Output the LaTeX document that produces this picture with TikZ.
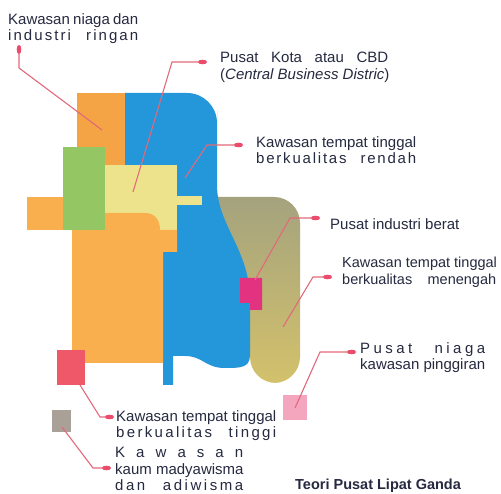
\documentclass[tikz,border=0pt]{standalone}
\usepackage{fontspec}
\setmainfont{Liberation Sans}
\usetikzlibrary{arrows.meta,calc}
\definecolor{txtnavy}{HTML}{262A40}
\definecolor{leadred}{HTML}{E2697A}
\definecolor{tipred}{HTML}{EC4C6C}
\definecolor{zonecbd}{HTML}{EEE38D}
\definecolor{zoneblue}{HTML}{2497DA}
\definecolor{zoneorange}{HTML}{F9AF4E}
\definecolor{zoneorangedk}{HTML}{F4A444}
\definecolor{zonegreen}{HTML}{95C664}
\definecolor{zoneolivetop}{HTML}{A4A37E}
\definecolor{zoneolivebot}{HTML}{D3C16B}
\definecolor{zonemagenta}{HTML}{E3327F}
\definecolor{zonered}{HTML}{EE5868}
\definecolor{zonepink}{HTML}{F5A6BF}
\definecolor{zonegrey}{HTML}{A9A198}
\tikzset{
  lbl/.style={anchor=north west,inner sep=0pt,align=left,text=txtnavy,
              font=\fontsize{15}{16.5}\selectfont},
  ttl/.style={anchor=north west,inner sep=0pt,text=txtnavy,
              font=\fontsize{14.5}{16}\selectfont\bfseries},
  ln/.style={-{Ellipse[length=9pt,width=4.5pt,color=tipred]},line width=1.1pt,leadred},
}
\newcommand{\fillline}[2]{\makebox[#1pt][s]{#2}}
\newcommand{\spreadline}[2]{\makebox[#1pt][s]{\lsfirst#2\relax}}
\def\lsfirst#1{#1\lsloop}
\def\lsloop#1{\ifx#1\relax\else\ifx#1|\hskip 5pt plus 4fil\relax\else
  \hskip 0pt plus 1fil\relax#1\fi\expandafter\lsloop\fi}

\begin{document}
\begin{tikzpicture}[x=1pt,y=-1pt,
  zone/.style={draw=none},
  olive/.style={zone,top color=zoneolivetop,bottom color=zoneolivebot}]

\useasboundingbox (0,0) rectangle (501,494);
\fill[white] (0,0) rectangle (501,494);

\shade[olive] (180,197) [rounded corners=26pt] -- (300,197) -- (300,383) -- (250,383)
  [sharp corners] -- (250,300) -- (180,300) -- cycle;
\fill[zone,zoneblue] (125,93) [rounded corners=30pt] -- (217,93) -- (217,140) [sharp corners]
  -- (217,185) .. controls (217,225) and (250,250) .. (250,300) -- (250,355)
  .. controls (250,368) and (240,368) .. (225,368) .. controls (205,368) and (203,356) .. (185,356)
  -- (173,356) -- (173,385) -- (163,385) -- (163,252) -- (177,252) -- (177,165) -- (125,165) -- cycle;
\fill[zone,zoneorangedk] (77,93) rectangle (125,200);
\fill[zone,zonecbd] (105,165) rectangle (177,232);
\fill[zone,zonecbd] (177,196) rectangle (202,205);
\fill[zone,zoneorange] (72,213) -- (145,213) .. controls (155,213) and (160,220) .. (160,230)
  -- (177,230) -- (177,252) -- (163,252) -- (163,363) -- (72,363) -- cycle;
\fill[zone,zoneorange] (27,197) rectangle (63,230);
\fill[zone,zonegreen] (63,147) rectangle (105,230);
\fill[zone,zonemagenta] (240,278) -- (262,278) -- (262,310) -- (250,310) -- (250,303) -- (240,303) -- cycle;
\fill[zone,zonered] (57,350) rectangle (85,385);
\fill[zone,zonepink] (283,395) rectangle (307,420);
\fill[zone,zonegrey] (52,410) rectangle (71,432);

\node[lbl] (ringan) at (8,13) {\fillline{130}{Kawasan niaga dan}\\ \spreadline{130}{industri|ringan}};
\node[lbl] (cbd) at (220,52) {\fillline{168}{Pusat Kota atau CBD}\\ (\textit{Central Business Distric})};
\node[lbl] (rendah) at (256,136) {Kawasan tempat tinggal\\ \spreadline{160}{berkualitas|rendah}};
\node[lbl] (berat) at (330,218) {Pusat industri berat};
\node[lbl,font=\fontsize{14.5}{16.5}\selectfont] (menengah) at (342,257)
  {Kawasan tempat tinggal\\ \fillline{154}{berkualitas menengah}};
\node[lbl] (pinggiran) at (360,342) {\spreadline{125}{Pusat|niaga}\\ kawasan pinggiran};
\node[lbl] (tinggi) at (116,410) {Kawasan tempat tinggal\\ \spreadline{160}{berkualitas|tinggi}};
\node[lbl] (wisma) at (115,447) {\spreadline{128}{Kawasan}\\ kaum madyawisma\\ \spreadline{128}{dan|adiwisma}};
\node[ttl] (judul) at (295,479) {Teori Pusat Lipat Ganda};

\coordinate (pRingan) at (102,130);
\coordinate (pCBD) at (133,192);
\coordinate (pRendah) at (185,178);
\coordinate (pBerat) at (255,280);
\coordinate (pMenengah) at (283,327);
\coordinate (pPinggir) at (295,408);
\coordinate (pTinggi) at (80,385);
\coordinate (pWisma) at (62,427);

\draw[ln] (pRingan) -- (19,68) -- ($(ringan.north west)+(11,32)$);
\draw[ln] (pCBD) -- (172,62) -- ($(cbd.north west)+(-13,10)$);
\draw[ln] (pRendah) -- (207,145) -- ($(rendah.north west)+(-13,9)$);
\draw[ln] (pBerat) -- (290,218) -- ($(berat.north west)+(-10,0)$);
\draw[ln] (pMenengah) -- (313,277) -- ($(menengah.north west)+(-10,20)$);
\draw[ln] (pPinggir) -- (320,352) -- ($(pinggiran.north west)+(-4,10)$);
\draw[ln] (pTinggi) -- (100,417) -- ($(tinggi.north west)+(-2,7)$);
\draw[ln] (pWisma) -- (93,468) -- ($(wisma.north west)+(-4,21)$);

\end{tikzpicture}
\end{document}
